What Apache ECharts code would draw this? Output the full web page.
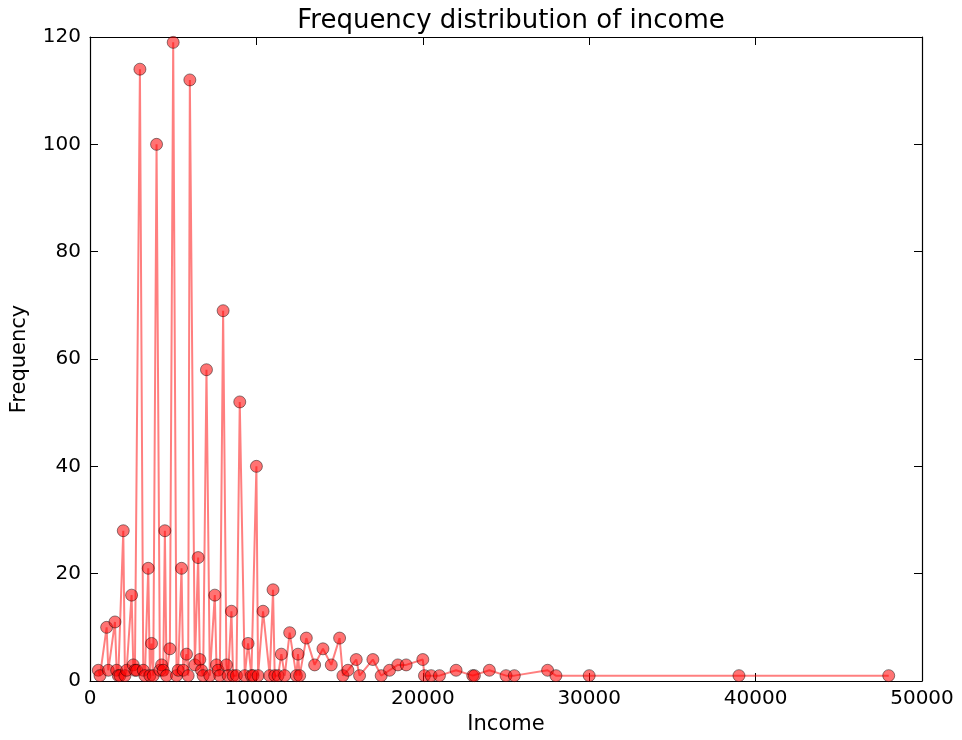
<!DOCTYPE html>
<html><head><meta charset="utf-8">
<script src="https://cdn.jsdelivr.net/npm/echarts@6/dist/echarts.min.js"></script>
<style>html,body{margin:0;padding:0;background:#fff}#c{width:962px;height:740px}</style>
</head><body><div id="c"></div>
<script>
const incomes = [500,600,1000,1100,1500,1600,1700,1800,2000,2100,2200,2500,2600,2700,2800,3000,3200,3300,3500,3600,3700,3800,4000,4200,4300,4400,4500,4600,4800,5000,5200,5300,5500,5600,5800,5900,6000,6300,6500,6600,6700,6800,7000,7200,7500,7600,7700,7800,8000,8200,8300,8500,8600,8800,9000,9300,9500,9700,9800,10000,10100,10400,10800,11000,11100,11300,11500,11700,12000,12400,12500,12600,13000,13500,14000,14500,15000,15200,15500,16000,16200,17000,17500,18000,18500,19000,20000,20100,20500,21000,22000,23000,23100,24000,25000,25500,27500,28000,30000,39000,48000];
const frequencies = [2,1,10,2,11,2,1,1,28,1,2,16,3,2,2,114,2,1,21,1,7,1,100,2,3,2,28,1,6,119,1,2,21,2,5,1,112,3,23,4,2,1,58,1,16,3,2,1,69,3,1,13,1,1,52,1,7,1,1,40,1,13,1,17,1,1,5,1,9,1,5,1,8,3,6,3,8,1,2,4,1,4,1,2,3,3,4,1,1,1,2,1,1,2,1,1,2,1,1,1,1];
const xTicks = [0,10000,20000,30000,40000,50000];
const yTicks = [0,20,40,60,80,100,120];

const font = 'DejaVu Sans';
const chart = echarts.init(document.getElementById('c'));
const axisLine = {show:true, onZero:false, lineStyle:{color:'#000', width:1.2}};
const tick = {show:true, inside:true, length:8, lineStyle:{color:'#000', width:1}};
chart.setOption({
  animation:false,
  backgroundColor:'#fff',
  title:{text:'Frequency distribution of income', left:506, top:3, textAlign:'center',
    textStyle:{fontFamily:font, fontSize:26, fontWeight:'normal', color:'#000'}},
  grid:{left:90, right:40, top:37, bottom:58, containLabel:false},
  xAxis:[
    {type:'value', min:xTicks[0], max:xTicks[xTicks.length-1], interval:10000, position:'bottom',
     name:'Income', nameLocation:'middle', nameGap:33,
     nameTextStyle:{fontFamily:font, fontSize:21, color:'#000'},
     axisLine, axisTick:tick, splitLine:{show:false},
     axisLabel:{fontFamily:font, fontSize:20, color:'#000', margin:8, formatter:v=>String(v)}},
    {type:'value', min:xTicks[0], max:xTicks[xTicks.length-1], interval:10000, position:'top',
     axisLine, axisTick:tick, splitLine:{show:false}, axisLabel:{show:false}}
  ],
  yAxis:[
    {type:'value', min:yTicks[0], max:yTicks[yTicks.length-1], interval:20, position:'left',
     name:'Frequency', nameLocation:'middle', nameGap:60, nameRotate:90,
     nameTextStyle:{fontFamily:font, fontSize:21, color:'#000'},
     axisLine, axisTick:tick, splitLine:{show:false},
     axisLabel:{fontFamily:font, fontSize:20, color:'#000', margin:9}},
    {type:'value', min:yTicks[0], max:yTicks[yTicks.length-1], interval:20, position:'right',
     axisLine, axisTick:tick, splitLine:{show:false}, axisLabel:{show:false}}
  ],
  series:[{
    type:'line', xAxisIndex:0, yAxisIndex:0,
    data: incomes.map((x,i)=>[x, frequencies[i]]),
    symbol:'circle', symbolSize:12, showSymbol:true,
    lineStyle:{color:'rgba(255,0,0,0.5)', width:2},
    itemStyle:{color:'rgba(255,0,0,0.55)', borderColor:'rgba(0,0,0,0.45)', borderWidth:1},
    emphasis:{disabled:true}
  }]
});
</script></body></html>
